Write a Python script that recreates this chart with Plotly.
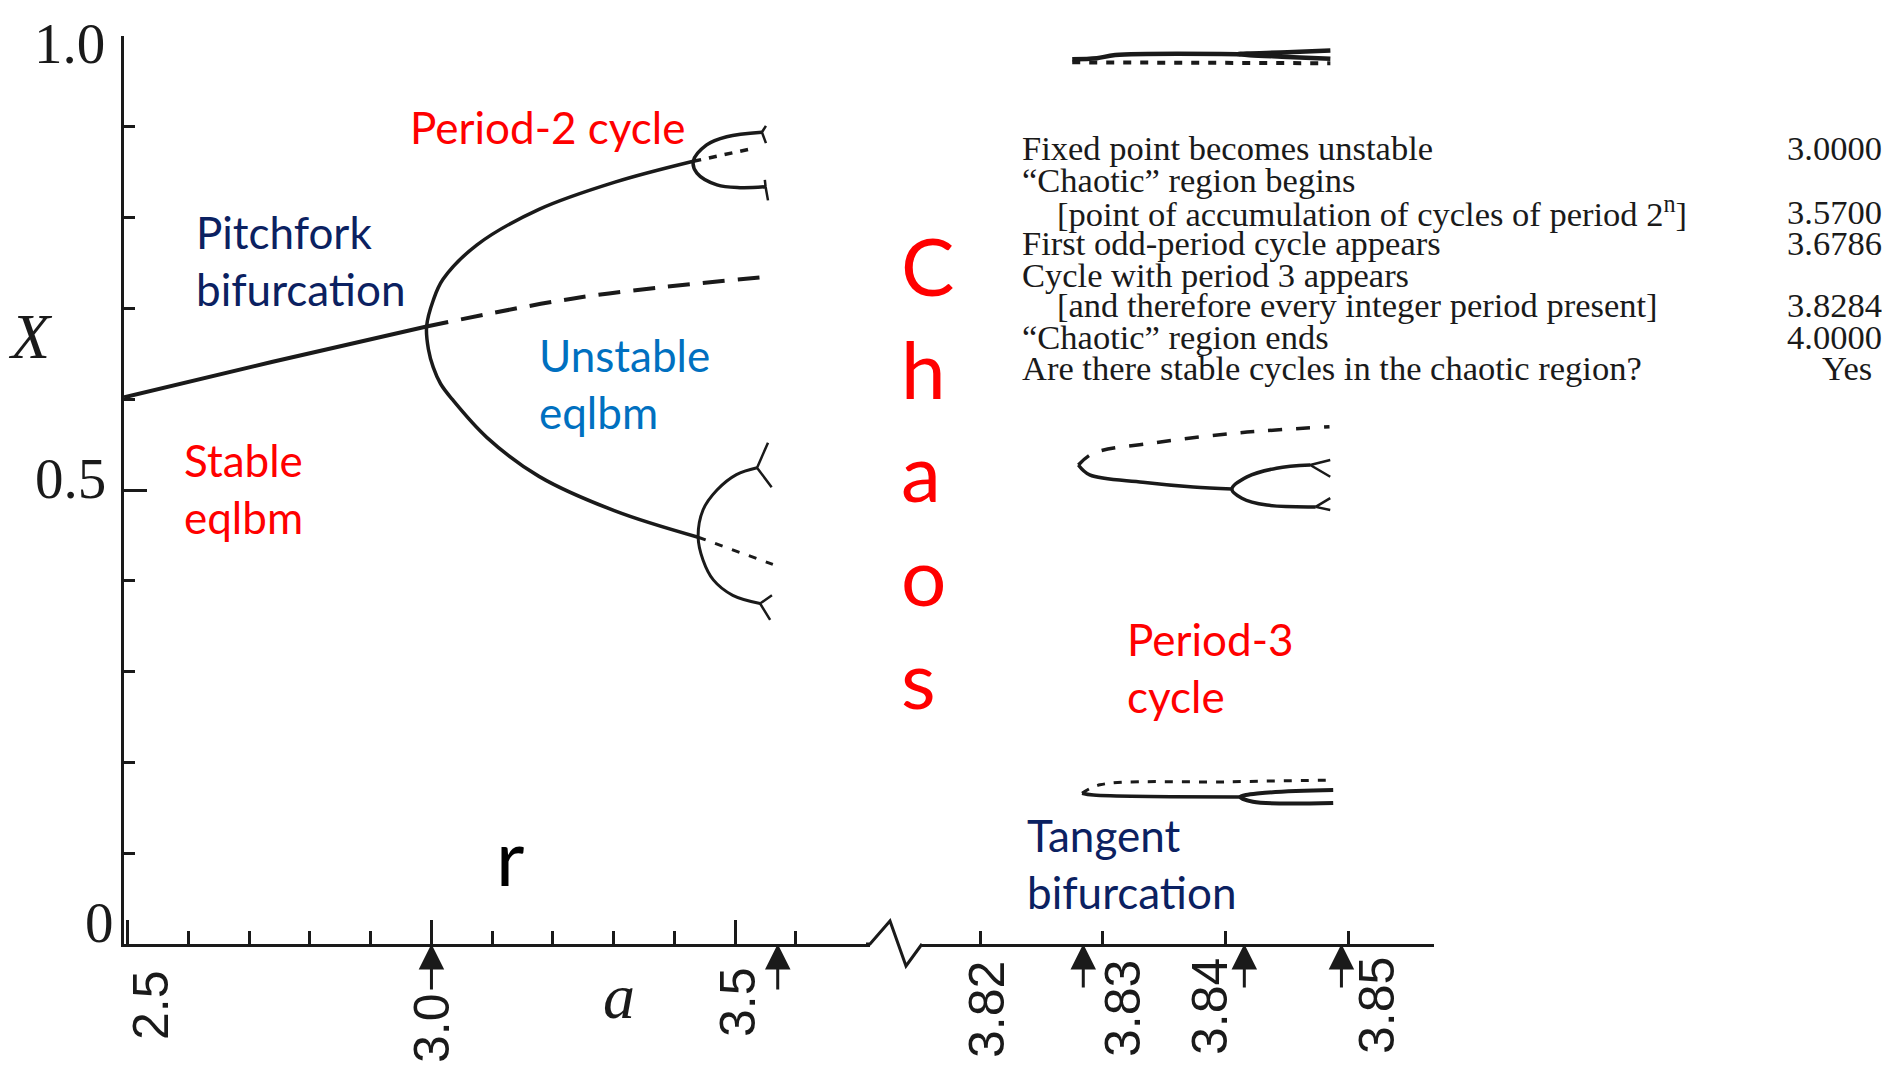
import plotly.graph_objects as go

# ---------------- data ----------------
# Left panel: r in [2.5, 3.6]
STABLE_R = [2.494, 2.737, 2.992]
STABLE_X = [0.602, 0.641, 0.680]
UNSTABLE_R = [2.992, 3.2435, 3.556]
UNSTABLE_X = [0.680, 0.712, 0.735]
# period-2 branch (upper end -> bifurcation -> lower end)
P2_R = [3.431, 3.302, 3.177, 3.075, 3.019, 3.003, 2.992, 2.995, 3.003, 3.015, 3.034,
        3.091, 3.177, 3.302, 3.439]
P2_X = [0.862, 0.839, 0.809, 0.770, 0.732, 0.709, 0.680, 0.655, 0.635, 0.617, 0.600,
        0.558, 0.515, 0.477, 0.448]
# period-4 forks
P4_UP_R = [3.544, 3.486, 3.453, 3.431, 3.437, 3.470, 3.508, 3.550]
P4_UP_X = [0.894, 0.889, 0.880, 0.862, 0.849, 0.836, 0.833, 0.834]
P4_UP_DASH_R = [3.431, 3.528]
P4_UP_DASH_X = [0.862, 0.876]
P4_LO_R = [3.536, 3.502, 3.470, 3.447, 3.439, 3.447, 3.464, 3.496, 3.541]
P4_LO_X = [0.5245, 0.517, 0.500, 0.478, 0.448, 0.423, 0.401, 0.384, 0.375]
P4_LO_DASH_R = [3.439, 3.562]
P4_LO_DASH_X = [0.448, 0.418]
# period-8 prongs at the branch ends
P8_R = [3.5506, 3.544, 3.5506, None, 3.5488, 3.550, 3.554, None,
        3.554, 3.536, 3.560, None, 3.5605, 3.541, 3.5575]
P8_X = [0.901, 0.894, 0.882, None, 0.8415, 0.834, 0.819, None,
        0.552, 0.5245, 0.503, None, 0.384, 0.375, 0.357]

# Right panel: period-3 window, r in [3.82, 3.85]
TOP_SOLID_R = [3.8275, 3.8295, 3.8310, 3.8410]
TOP_SOLID_X = [0.9745, 0.9756, 0.979, 0.980]
TOP_FORK_R = [3.8485, 3.8450, 3.8410, 3.8450, 3.8485]
TOP_FORK_X = [0.984, 0.982, 0.980, 0.977, 0.975]
TOP_DASH_R = [3.8275, 3.8485]
TOP_DASH_X = [0.971, 0.970]

MID_DASH_R = [3.8280, 3.82922, 3.83407, 3.84118, 3.84843]
MID_DASH_X = [0.5275, 0.5405, 0.5518, 0.563, 0.5697]
MID_SOLID_R = [3.8280, 3.82892, 3.83324, 3.83735, 3.84049]
MID_SOLID_X = [0.5275, 0.5166, 0.5086, 0.5033, 0.501]
MID_FORK_R = [3.84686, 3.84412, 3.84172, 3.84049, 3.8413, 3.84333, 3.8473]
MID_FORK_X = [0.5275, 0.524, 0.5144, 0.501, 0.491, 0.4834, 0.4814]
MID_P6_R = [3.84849, 3.84686, 3.84849, None, 3.84849, 3.8473, 3.84849]
MID_P6_X = [0.533, 0.5275, 0.5146, None, 0.491, 0.4814, 0.478]

BOT_DASH_R = [3.8283, 3.82976, 3.8401, 3.84873]
BOT_DASH_X = [0.166, 0.1753, 0.1786, 0.1806]
BOT_SOLID_R = [3.8283, 3.82922, 3.84118]
BOT_SOLID_X = [0.166, 0.164, 0.162]
BOT_FORK_R = [3.84873, 3.84275, 3.84118, 3.8422, 3.84873]
BOT_FORK_X = [0.1695, 0.166, 0.162, 0.1566, 0.1554]

# axes
LEFT_MAJOR = [2.5, 3.0, 3.5]
LEFT_MINOR = [2.6, 2.7, 2.8, 2.9, 3.1, 3.2, 3.3, 3.4, 3.6]
RIGHT_TICKS = [3.82, 3.83, 3.84, 3.85]
Y_MAJOR = [0, 0.5, 1.0]
Y_MINOR = [0.1, 0.2, 0.3, 0.4, 0.6, 0.7, 0.8, 0.9]
LEFT_ARROWS = [3.0, 3.57]
RIGHT_ARROWS = [3.8284, 3.8415, 3.8494]
LEFT_TICK_TEXT = ["2.5", "3.0", "3.5"]
RIGHT_TICK_TEXT = ["3.82", "3.83", "3.84", "3.85"]
Y_TICK_TEXT = ["0", "0.5", "1.0"]

TABLE_LABELS = [
    "Fixed point becomes unstable",
    "\u201cChaotic\u201d region begins",
    "[point of accumulation of cycles of period 2<sup>n</sup>]",
    "First odd-period cycle appears",
    "Cycle with period 3 appears",
    "[and therefore every integer period present]",
    "\u201cChaotic\u201d region ends",
    "Are there stable cycles in the chaotic region?",
]
TABLE_INDENT = [False, False, True, False, False, True, False, False]
TABLE_VALUES = ["3.0000", "", "3.5700", "3.6786", "", "3.8284", "4.0000", "Yes"]

# ---------------- layout geometry (page pixels) ----------------
PAGE_W, PAGE_H = 1890, 1065
OFF = 8                      # browser body margin
PL, PR, PT, PB = 124, 1434, 36, 944   # plot area on the page
PW, PH = PR - PL, PB - PT
FIG_W, FIG_H = PAGE_W - OFF, PAGE_H - OFF
ML, MT = PL - OFF, PT - OFF
MR, MB = FIG_W - ML - PW, FIG_H - MT - PH


def px(x):
    return (x - PL) / PW


def py(y):
    return (PB - y) / PH


RED = "#FF0000"
NAVY = "#0B2161"
BLUE = "#0070C0"
INK = "#1a1a1a"

fig = go.Figure()


def line(r, x, axis="x", width=3.5, dash=None, shape="spline"):
    fig.add_trace(go.Scatter(
        x=r, y=x, mode="lines", xaxis=axis, yaxis="y",
        line=dict(color=INK, width=width, dash=dash, shape=shape, smoothing=1.0),
        showlegend=False, hoverinfo="skip", connectgaps=False))


# left panel
line(STABLE_R, STABLE_X, width=4)
line(UNSTABLE_R, UNSTABLE_X, width=4, dash="22px,13px")
line(P2_R, P2_X, width=3.5)
line(P4_UP_R, P4_UP_X, width=3.5)
line(P4_UP_DASH_R, P4_UP_DASH_X, width=3.5, dash="8px,8px", shape="linear")
line(P4_LO_R, P4_LO_X, width=3)
line(P4_LO_DASH_R, P4_LO_DASH_X, width=3, dash="8px,10px", shape="linear")
line(P8_R, P8_X, width=2.5, shape="linear")

# right panel
line(TOP_SOLID_R, TOP_SOLID_X, "x2", width=4.5)
line(TOP_FORK_R, TOP_FORK_X, "x2", width=4.5)
line(TOP_DASH_R, TOP_DASH_X, "x2", width=4, dash="8px,9px", shape="linear")
line(MID_DASH_R, MID_DASH_X, "x2", width=3.5, dash="14px,14px")
line(MID_SOLID_R, MID_SOLID_X, "x2", width=3.5)
line(MID_FORK_R, MID_FORK_X, "x2", width=3.5)
line(MID_P6_R, MID_P6_X, "x2", width=2.5, shape="linear")
line(BOT_DASH_R, BOT_DASH_X, "x2", width=3, dash="8px,9px")
line(BOT_SOLID_R, BOT_SOLID_X, "x2", width=3.5)
line(BOT_FORK_R, BOT_FORK_X, "x2", width=4)

axis_common = dict(showgrid=False, zeroline=False, showline=True, linecolor=INK,
                   linewidth=3, ticks="inside", tickcolor=INK, tickwidth=3,
                   showticklabels=False, fixedrange=True)

fig.update_layout(
    width=FIG_W, height=FIG_H, autosize=False,
    margin=dict(l=ML, r=MR, t=MT, b=MB, pad=0),
    paper_bgcolor="white", plot_bgcolor="white",
    xaxis=dict(domain=[0, px(870)], range=[2.4939, 3.7219], anchor="y",
               tickvals=LEFT_MAJOR, ticklen=24,
               minor=dict(tickvals=LEFT_MINOR, ticks="inside", ticklen=13,
                          tickwidth=3, tickcolor=INK, showgrid=False),
               **axis_common),
    xaxis2=dict(domain=[px(922), 1], range=[3.81528, 3.85693], anchor="y",
                tickvals=RIGHT_TICKS, ticklen=13, **axis_common),
    yaxis=dict(domain=[0, 1], range=[0, 1], anchor="x",
               tickvals=Y_MAJOR, ticklen=23,
               minor=dict(tickvals=Y_MINOR, ticks="inside", ticklen=11,
                          tickwidth=3, tickcolor=INK, showgrid=False),
               **axis_common),
)

# axis break zig-zag
fig.add_shape(type="path", xref="paper", yref="paper", layer="above",
              path=f"M {px(866)} {py(944)} L {px(870)} {py(944)} L {px(890)} {py(921)} "
                   f"L {px(906)} {py(966)} L {px(922)} {py(944)}",
              line=dict(color=INK, width=3))

# arrows under the axes
for r in LEFT_ARROWS:
    fig.add_annotation(x=r, y=0, xref="x", yref="y", ax=0, ay=47, text="",
                       showarrow=True, arrowhead=2, arrowsize=1.7, arrowwidth=3,
                       arrowcolor=INK, standoff=0)
for r in RIGHT_ARROWS:
    fig.add_annotation(x=r, y=0, xref="x2", yref="y", ax=0, ay=45, text="",
                       showarrow=True, arrowhead=2, arrowsize=1.7, arrowwidth=3,
                       arrowcolor=INK, standoff=0)

# rotated tick labels
TICK_FONT = dict(family="Liberation Sans", size=50, color=INK)
left_lbl_pos = [(151, 1005), (432, 1028), (738, 1002)]
for t, (x, y) in zip(LEFT_TICK_TEXT, left_lbl_pos):
    fig.add_annotation(x=px(x), y=py(y), xref="paper", yref="paper", text=t,
                       textangle=-90, showarrow=False, font=TICK_FONT,
                       xanchor="center", yanchor="middle")
right_lbl_pos = [(987, 1010), (1123, 1009), (1210, 1007), (1377, 1006)]
for t, (x, y) in zip(RIGHT_TICK_TEXT, right_lbl_pos):
    fig.add_annotation(x=px(x), y=py(y), xref="paper", yref="paper", text=t,
                       textangle=-90, showarrow=False, font=TICK_FONT,
                       xanchor="center", yanchor="middle")

# y tick labels
Y_FONT = dict(family="Liberation Serif", size=57, color=INK)
y_lbl_pos = [(99, 922), (70, 479), (69, 43)]
for t, (x, y) in zip(Y_TICK_TEXT, y_lbl_pos):
    fig.add_annotation(x=px(x), y=py(y), xref="paper", yref="paper", text=t,
                       showarrow=False, font=Y_FONT, xanchor="center", yanchor="middle")

# axis titles
fig.add_annotation(x=px(30), y=py(337), xref="paper", yref="paper", text="<i>X</i>",
                   showarrow=False, font=dict(family="Liberation Serif", size=64, color=INK),
                   xanchor="center", yanchor="middle")
fig.add_annotation(x=px(619), y=py(996), xref="paper", yref="paper", text="<i>a</i>",
                   showarrow=False, font=dict(family="Liberation Serif", size=64, color=INK),
                   xanchor="center", yanchor="middle")
fig.add_annotation(x=px(494), y=py(856), xref="paper", yref="paper", text="r",
                   showarrow=False, font=dict(family="Lato", size=78, color="black"),
                   xanchor="left", yanchor="middle")

# coloured labels
LBL = 44


def label(text, x, y, color):
    fig.add_annotation(x=px(x), y=py(y), xref="paper", yref="paper", text=text,
                       showarrow=False, align="left",
                       font=dict(family="Lato", size=LBL, color=color),
                       xanchor="left", yanchor="middle")


label("Period-2 cycle", 408, 127, RED)
label("Pitchfork<br>bifurcation", 194, 261, NAVY)
label("Unstable<br>eqlbm", 537, 383, BLUE)
label("Stable<br>eqlbm", 182, 488, RED)
label("Period-3<br>cycle", 1125, 667, RED)
label("Tangent<br>bifurcation", 1025, 863, NAVY)

chaos_y = [265, 368, 471, 575, 678]
for ch, y in zip("Chaos", chaos_y):
    fig.add_annotation(x=px(899), y=py(y), xref="paper", yref="paper", text=ch,
                       showarrow=False, font=dict(family="Lato", size=80, color=RED),
                       xanchor="left", yanchor="middle")

# table
TAB_FONT = dict(family="Liberation Serif", size=34.5, color=INK)
row_y = [148, 180, 212, 243, 275, 305, 337, 368]
for lab, ind, val, y in zip(TABLE_LABELS, TABLE_INDENT, TABLE_VALUES, row_y):
    fig.add_annotation(x=px(1055 if ind else 1020), y=py(y), xref="paper", yref="paper",
                       text=lab, showarrow=False, font=TAB_FONT,
                       xanchor="left", yanchor="middle")
    if val:
        fig.add_annotation(x=px(1874 if val == "Yes" else 1884), y=py(y), xref="paper",
                           yref="paper", text=val, showarrow=False, font=TAB_FONT,
                           xanchor="right", yanchor="middle")

fig.write_html("out.html")
